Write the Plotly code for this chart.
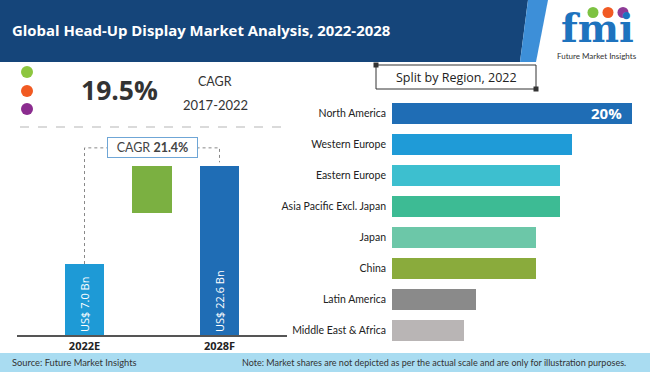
import plotly.graph_objects as go

W, H = 650, 372

# ---------------- data ----------------
title = "Global Head-Up Display Market Analysis, 2022-2028"
years = ["2022E", "2028F"]
market_bn = [7.0, 22.6]
year_colors = ["#1e9ad6", "#1f6db5"]
cagr_hist = "19.5%"
cagr_hist_period = "2017-2022"
cagr_forecast = "21.4%"
growth_segment = [15.1, 22.6]   # illustrative green box (low, high)

regions = ["North America", "Western Europe", "Eastern Europe",
           "Asia Pacific Excl. Japan", "Japan", "China",
           "Latin America", "Middle East & Africa"]
shares = [20, 15, 14, 14, 12, 12, 7, 6]
region_colors = ["#1f6db5", "#1f9bd7", "#3dbfcf", "#3dbb94",
                 "#6cc7a8", "#8aab3c", "#8a8a8a", "#b9b5b5"]

source_text = "Source: Future Market Insights"
note_text = ("Note: Market shares are not depicted as per the actual scale "
             "and are only for illustration purposes.")

# ---------------- helpers ----------------
def px(x):
    return x / W

def py(y):
    return 1 - y / H

axis_floor = -4.3          # illustrative (non-proportional) bar baseline
FONT = "Open Sans"

fig = go.Figure()

# Left: market value bars
fig.add_trace(go.Bar(
    x=years, y=[v - axis_floor for v in market_bn], base=axis_floor,
    marker=dict(color=year_colors, line=dict(width=0)), width=0.59,
    text=[f"US$ {v:.1f} Bn" for v in market_bn],
    textposition="inside", insidetextanchor="start", textangle=-90,
    textfont=dict(color="white", size=11, family=FONT),
    constraintext="none", cliponaxis=False, showlegend=False,
    xaxis="x", yaxis="y", hoverinfo="skip"))

fig.add_trace(go.Bar(
    x=["growth"], y=[growth_segment[1] - growth_segment[0]],
    base=growth_segment[0], width=0.59,
    marker=dict(color="#7bb041", line=dict(width=0)),
    showlegend=False, xaxis="x", yaxis="y", hoverinfo="skip"))

# Right: regional split
fig.add_trace(go.Bar(
    x=shares, y=regions, orientation="h", width=0.67,
    marker=dict(color=region_colors, line=dict(width=0)),
    showlegend=False, xaxis="x2", yaxis="y2", hoverinfo="skip"))

shapes = []
annotations = []

# Header band
shapes.append(dict(type="path", xref="paper", yref="paper",
                   path=f"M 0 {py(0)} L {px(528)} {py(0)} L {px(520)} {py(62)} L 0 {py(62)} Z",
                   fillcolor="#15457a", line=dict(width=0), layer="below"))
shapes.append(dict(type="path", xref="paper", yref="paper",
                   path=f"M {px(528)} {py(0)} L {px(548)} {py(0)} L {px(536)} {py(62)} L {px(520)} {py(62)} Z",
                   fillcolor="#3d8fd8", line=dict(width=0), layer="below"))
annotations.append(dict(text=f"<b>{title}</b>", xref="paper", yref="paper",
                        x=px(10), y=py(30), xanchor="left", yanchor="middle",
                        showarrow=False, font=dict(color="white", size=14.9, family=FONT)))

# Logo
for cx, col in zip([593, 608, 623], ["#7dc242", "#f15a24", "#8e3b97"]):
    shapes.append(dict(type="circle", xref="paper", yref="paper",
                       x0=px(cx - 5.5), x1=px(cx + 5.5), y0=py(18), y1=py(7),
                       fillcolor=col, line=dict(width=0)))
annotations.append(dict(text="<b>fmi</b>", xref="paper", yref="paper",
                        x=px(597), y=py(28), xanchor="center", yanchor="middle",
                        showarrow=False, font=dict(color="#1e73be", size=39, family="DejaVu Serif")))
annotations.append(dict(text="Future Market Insights", xref="paper", yref="paper",
                        x=px(597), y=py(56), xanchor="center", yanchor="middle",
                        showarrow=False, font=dict(color="#333333", size=8, family="Lato")))

# Left top: dots & CAGR
for cy, col in zip([72, 91, 109], ["#8dc63f", "#f15a22", "#8b2c8f"]):
    shapes.append(dict(type="circle", xref="paper", yref="paper",
                       x0=px(21), x1=px(33), y0=py(cy + 6), y1=py(cy - 6),
                       fillcolor=col, line=dict(width=0)))
annotations.append(dict(text=f"<b>{cagr_hist}</b>", xref="paper", yref="paper",
                        x=px(119.5), y=py(90), xanchor="center", yanchor="middle",
                        showarrow=False, font=dict(color="#333333", size=26.5, family=FONT)))
annotations.append(dict(text="CAGR", xref="paper", yref="paper",
                        x=px(215), y=py(81), xanchor="center", yanchor="middle",
                        showarrow=False, font=dict(color="#333333", size=12.5, family="Lato")))
annotations.append(dict(text=cagr_hist_period, xref="paper", yref="paper",
                        x=px(215), y=py(105), xanchor="center", yanchor="middle",
                        showarrow=False, font=dict(color="#333333", size=13, family="Lato")))
shapes.append(dict(type="line", xref="paper", yref="paper",
                   x0=px(20), x1=px(288), y0=py(127), y1=py(127),
                   line=dict(color="#b5b5b5", width=1, dash="dash")))

# CAGR forecast box and connectors
yb = 25.5
shapes.append(dict(type="path", xref="x", yref="y",
                   path=f"M 0 {market_bn[0]} L 0 {yb} L 0.35 {yb}",
                   line=dict(color="#888888", width=1, dash="dot")))
shapes.append(dict(type="path", xref="x", yref="y",
                   path=f"M 1.66 {yb} L 2 {yb} L 2 {market_bn[1] + 0.6}",
                   line=dict(color="#888888", width=1, dash="dot")))
annotations.append(dict(text=f"CAGR <b>{cagr_forecast}</b>", xref="x", yref="y",
                        x=1, y=yb, xanchor="center", yanchor="middle",
                        showarrow=False, bgcolor="white", bordercolor="#6fa6d6",
                        borderwidth=1, borderpad=2, width=85,
                        font=dict(color="#444444", size=12.5, family="Lato")))

# Right: split header box
shapes.append(dict(type="rect", xref="paper", yref="paper",
                   x0=px(376), x1=px(536), y0=py(89), y1=py(65),
                   line=dict(color="#333333", width=1), fillcolor="white"))
for (sx, sy) in [(376, 65), (536, 89)]:
    shapes.append(dict(type="rect", xref="paper", yref="paper",
                       x0=px(sx - 2.5), x1=px(sx + 2.5), y0=py(sy + 2.5), y1=py(sy - 2.5),
                       line=dict(width=0), fillcolor="#333333"))
annotations.append(dict(text="Split by Region, 2022", xref="paper", yref="paper",
                        x=px(456), y=py(77), xanchor="center", yanchor="middle",
                        showarrow=False, font=dict(color="#222222", size=12.5, family=FONT)))
annotations.append(dict(text=f"<b>{shares[0]}%</b>", xref="x2", yref="y2",
                        x=shares[0], y=regions[0], xanchor="right", yanchor="middle",
                        xshift=-8, showarrow=False,
                        font=dict(color="white", size=15, family=FONT)))

# Footer
shapes.append(dict(type="rect", xref="paper", yref="paper",
                   x0=0, x1=1, y0=0, y1=py(353),
                   fillcolor="#a9dcf1", line=dict(width=0), layer="below"))
annotations.append(dict(text=source_text, xref="paper", yref="paper",
                        x=px(10), y=py(362), xanchor="left", yanchor="middle",
                        showarrow=False, font=dict(color="#333333", size=9.3, family="Lato")))
annotations.append(dict(text=note_text, xref="paper", yref="paper",
                        x=px(628), y=py(362), xanchor="right", yanchor="middle",
                        showarrow=False, font=dict(color="#333333", size=9, family="Lato")))

fig.update_layout(
    width=W, height=H, margin=dict(l=0, r=0, t=0, b=0),
    paper_bgcolor="white", plot_bgcolor="rgba(0,0,0,0)",
    bargap=0, barmode="overlay",
    shapes=shapes, annotations=annotations,
    xaxis=dict(domain=[px(17), px(287)], type="category",
               categoryorder="array", categoryarray=[years[0], "growth", years[1]],
               range=[-1, 3], showgrid=False, zeroline=False,
               showline=True, linecolor="#555555", linewidth=1.5,
               tickvals=years, ticktext=[f"<b>{y}</b>" for y in years],
               ticks="", tickfont=dict(size=11, color="#222222", family=FONT),
               fixedrange=True),
    yaxis=dict(domain=[py(335), py(125)], range=[axis_floor, axis_floor + 210 / 6.28],
               visible=False, fixedrange=True),
    xaxis2=dict(domain=[px(392), px(632)], range=[0, shares[0]], anchor="y2",
                visible=False, fixedrange=True),
    yaxis2=dict(domain=[py(345.5), py(97.5)], anchor="x2", type="category",
                categoryorder="array", categoryarray=regions,
                range=[len(regions) - 0.5, -0.5], showgrid=False, zeroline=False,
                showline=False, ticks="", ticklabelstandoff=5,
                tickfont=dict(size=10.5, color="#222222", family="Lato"),
                fixedrange=True),
)

fig.write_html("out.html", config={"displayModeBar": False},
               post_script="document.body.style.margin='0';document.body.style.overflow='hidden';")
